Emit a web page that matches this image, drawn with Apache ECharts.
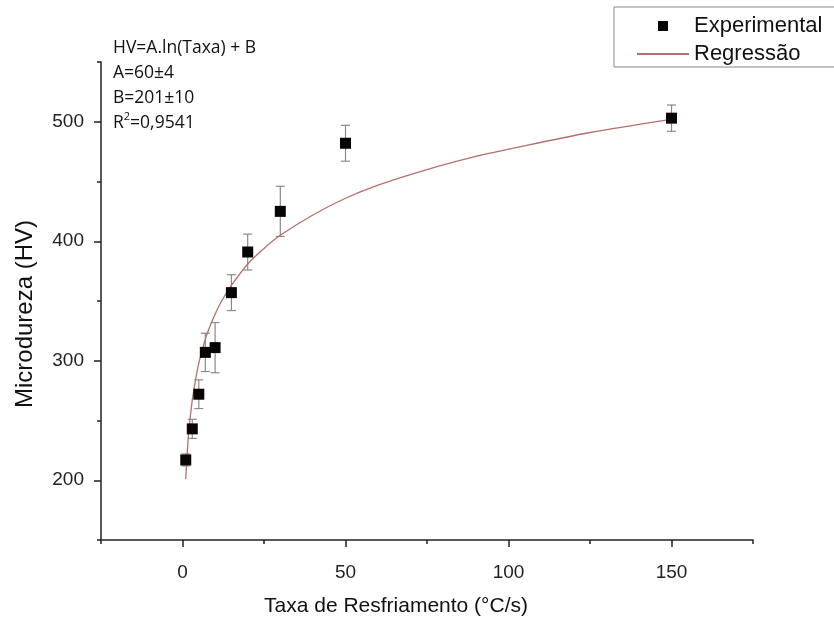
<!DOCTYPE html>
<html>
<head>
<meta charset="utf-8">
<script src="https://cdn.jsdelivr.net/npm/echarts@6/dist/echarts.min.js"></script>
<style>
  html, body { margin: 0; padding: 0; background: #fff; }
  #chart { width: 834px; height: 622px; }
</style>
</head>
<body>
<div id="chart"></div>
<script>
// 实验数据 (taxa de resfriamento, microdureza, erro)
const taxa = [1, 3, 5, 7, 10, 15, 20, 30, 50, 150]
const hv = [217, 243, 272, 307, 311, 357, 391, 425, 482, 503]
const hvErr = [5, 8, 12, 16, 21, 15, 15, 21, 15, 11]

// 回归曲线
const regX = [1, 1.5, 2, 3, 4, 5, 6, 7, 8, 10, 12, 15, 20, 25, 30, 40, 50, 60, 75, 90, 100, 125, 150]
const regY = [201, 225, 243, 267, 284, 298, 308, 318, 326, 339, 350, 363, 381, 394, 405, 422, 436, 447, 460, 471, 477, 491, 502]

// 刻度
const xMajor = [0, 50, 100, 150]
const xMinor = [-25, 25, 75, 125, 175]
const yMajor = [200, 300, 400, 500]
const yMinor = [150, 250, 350, 450, 550]

const fitLines = ['HV=A.ln(Taxa) + B', 'A=60±4', 'B=201±10']

const font = 'Liberation Sans, Arial, sans-serif'
const noteFont = 'Open Sans, Lato, sans-serif'
const axisColor = '#222'

const myChart = echarts.init(document.getElementById('chart'))

const expData = taxa.map((x, i) => [x, hv[i]])
const errData = taxa.map((x, i) => [x, hv[i] - hvErr[i], hv[i] + hvErr[i]])
const regData = regX.map((x, i) => [x, regY[i]])

const baseX = {
  type: 'value',
  min: -25,
  max: 175,
  splitLine: { show: false }
}
const baseY = {
  type: 'value',
  min: 150,
  max: 550,
  splitLine: { show: false }
}

const option = {
  animation: false,
  grid: { left: 101, right: 81, top: 62, bottom: 80 },

  legend: {
    orient: 'vertical',
    left: 614,
    top: 7,
    padding: [8, 10, 6, 22],
    itemWidth: 52,
    itemHeight: 10,
    itemGap: 6,
    textStyle: { fontFamily: font, fontSize: 22, color: '#111' },
    data: [
      // 小方块居中
      { name: 'Experimental', icon: 'path://M0,0L0,0ZM21,0L31,0L31,10L21,10ZM52,10L52,10Z' },
      { name: 'Regressão', itemStyle: { opacity: 0 } }
    ]
  },

  xAxis: [
    {
      ...baseX,
      name: 'Taxa de Resfriamento (°C/s)',
      nameLocation: 'middle',
      nameGap: 56,
      nameTextStyle: { fontFamily: font, fontSize: 21, color: '#111', padding: [0, 62, 0, 0] },
      axisLine: { onZero: false, lineStyle: { color: axisColor, width: 1.5 } },
      axisTick: { customValues: xMajor, length: 7, lineStyle: { color: axisColor, width: 1.5 } },
      axisLabel: { customValues: xMajor, margin: 23, fontFamily: font, fontSize: 19, color: '#222' }
    },
    {
      ...baseX,
      position: 'bottom',
      axisLine: { show: false, onZero: false },
      axisTick: { customValues: xMinor, length: 4, lineStyle: { color: axisColor, width: 1.5 } },
      axisLabel: { show: false }
    }
  ],

  yAxis: [
    {
      ...baseY,
      name: 'Microdureza (HV)',
      nameLocation: 'middle',
      nameGap: 64,
      nameTextStyle: { fontFamily: font, fontSize: 24, color: '#111', padding: [0, 26, 0, 0] },
      axisLine: { onZero: false, lineStyle: { color: axisColor, width: 1.5 } },
      axisTick: { customValues: yMajor, length: 7, lineStyle: { color: axisColor, width: 1.5 } },
      axisLabel: { customValues: yMajor, margin: 17, fontFamily: font, fontSize: 19, color: '#222' }
    },
    {
      ...baseY,
      position: 'left',
      axisLine: { show: false, onZero: false },
      axisTick: { customValues: yMinor, length: 4, lineStyle: { color: axisColor, width: 1.5 } },
      axisLabel: { show: false }
    }
  ],

  graphic: [
    // 图例边框 (右侧超出画布)
    {
      type: 'rect',
      shape: { x: 614, y: 7, width: 260, height: 60 },
      style: { fill: 'none', stroke: '#888', lineWidth: 1 },
      z: -1
    },
    {
      type: 'text',
      left: 113,
      top: 36,
      style: {
        text: fitLines.join('\n') + '\n{r|R}{sup|2}{r|=0,9541}',
        fontFamily: noteFont,
        fontSize: 17.5,
        lineHeight: 25,
        fill: '#111',
        rich: {
          r: { fontFamily: noteFont, fontSize: 17.5, lineHeight: 25 },
          sup: { fontFamily: noteFont, fontSize: 11, verticalAlign: 'top', padding: [0, 0, 8, 0] }
        }
      }
    }
  ],

  series: [
    {
      name: 'Erro',
      type: 'custom',
      z: 1,
      data: errData,
      renderItem: (params, api) => {
        const x = api.value(0)
        const lo = api.coord([x, api.value(1)])
        const hi = api.coord([x, api.value(2)])
        const cap = 4.5
        const style = { stroke: '#8a8a8a', lineWidth: 1.2 }
        return {
          type: 'group',
          children: [
            { type: 'line', shape: { x1: lo[0], y1: lo[1], x2: hi[0], y2: hi[1] }, style },
            { type: 'line', shape: { x1: lo[0] - cap, y1: lo[1], x2: lo[0] + cap, y2: lo[1] }, style },
            { type: 'line', shape: { x1: hi[0] - cap, y1: hi[1], x2: hi[0] + cap, y2: hi[1] }, style }
          ]
        }
      }
    },
    {
      name: 'Regressão',
      type: 'line',
      z: 2,
      data: regData,
      smooth: 0.3,
      showSymbol: false,
      symbol: 'none',
      lineStyle: { color: '#b3706e', width: 1.3 },
      itemStyle: { color: '#b3706e' }
    },
    {
      name: 'Experimental',
      type: 'scatter',
      z: 3,
      data: expData,
      symbol: 'rect',
      symbolSize: 11,
      itemStyle: { color: '#0a0505', opacity: 1 }
    }
  ]
}

myChart.setOption(option)
</script>
</body>
</html>
